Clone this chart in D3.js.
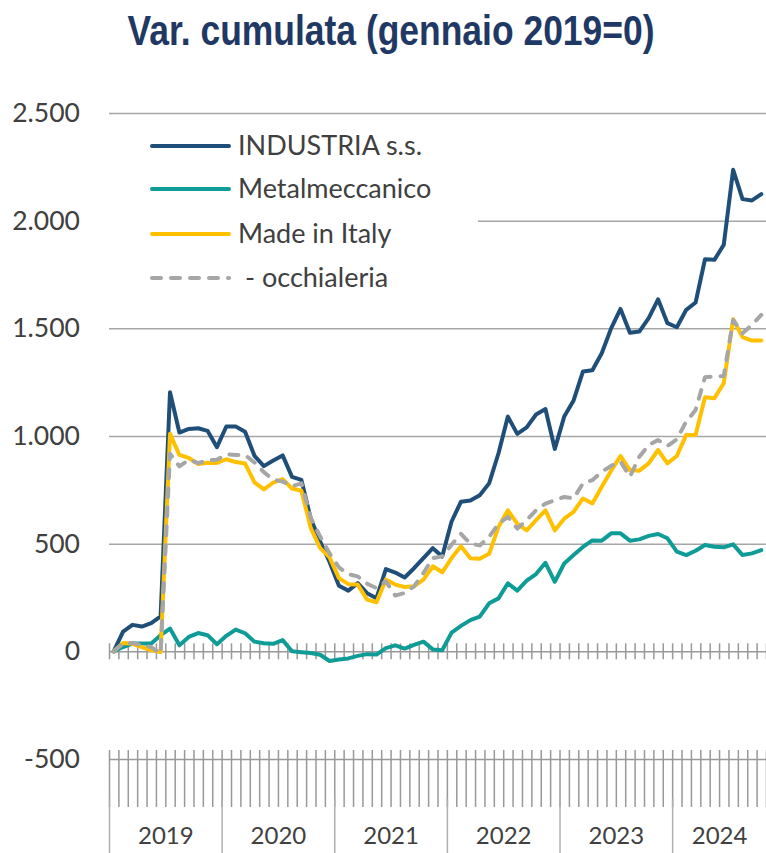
<!DOCTYPE html>
<html><head><meta charset="utf-8">
<script src="https://cdn.jsdelivr.net/npm/d3@7"></script>
<style>
html,body{margin:0;padding:0;background:#fff;}
svg{display:block;}
</style></head><body>
<svg id="chart" width="766" height="853"></svg>
<script>
// ---- data ----
const title = "Var. cumulata (gennaio 2019=0)";
const years = ["2019","2020","2021","2022","2023","2024"];
const monthsInYear = [12,12,12,12,12,10];
const seriesNames = ["INDUSTRIA s.s.","Metalmeccanico","Made in Italy","- occhialeria"];
const yTicks = [-500,0,500,1000,1500,2000,2500];
const gridTicks = [500,1000,1500,2000,2500];

const industria = [0,92,123,115,131,162,1203,1016,1033,1036,
  1024,948,1044,1044,1020,908,860,886,910,810,
  796,615,510,415,305,282,317,270,247,382,
  366,343,386,433,479,440,603,695,700,725,
  780,920,1090,1010,1040,1100,1125,940,1090,1165,
  1300,1305,1384,1500,1590,1480,1485,1547,1635,1524,
  1505,1586,1620,1821,1818,1888,2236,2100,2094,2123];
const metalmeccanico = [0,20,36,36,36,75,106,28,67,85,
  75,33,72,101,84,45,38,35,52,0,
  -4,-8,-16,-45,-38,-33,-21,-13,-15,15,
  28,13,30,45,9,5,87,118,145,161,
  223,246,316,282,328,359,411,323,408,447,
  485,515,514,548,548,514,520,536,545,525,
  463,447,467,494,486,483,497,447,455,470];
const madeInItaly = [0,39,35,20,5,-3,1010,912,898,870,
  876,875,892,879,872,785,752,784,800,756,
  746,572,479,436,340,312,310,240,228,333,
  310,299,302,333,395,367,433,488,432,430,
  453,578,655,593,562,609,655,562,616,648,
  710,687,764,839,907,842,839,873,935,873,
  907,1005,1005,1180,1175,1245,1542,1459,1443,1443];
const occhialeria = [0,36,39,28,20,-11,918,859,890,874,
  887,890,915,912,912,877,832,797,789,767,
  780,620,533,455,390,358,348,314,294,325,
  259,271,302,364,433,441,495,546,500,492,
  531,593,624,570,609,655,686,702,717,710,
  780,795,834,861,881,811,904,958,981,954,
  985,1067,1121,1273,1276,1279,1539,1477,1516,1562];

const seriesValues = [industria, metalmeccanico, madeInItaly, occhialeria];
const seriesColors = ["#1f4e79","#0f9c97","#ffc000","#a6a6a6"];

// ---- build ----
const categories = [];
years.forEach((yr,i)=>{ for(let m=1;m<=monthsInYear[i];m++) categories.push(yr+"-"+String(m).padStart(2,"0")); });

const L=109, R=766, T=113, B=759;
const svg = d3.select("#chart");
const labelFont = "Lato, 'Open Sans', sans-serif";
const textCol = "#404040";

const x = d3.scaleBand().domain(categories).range([L,R]).padding(0);
const xb = d3.scaleLinear().domain([0,categories.length]).range([L,R]);
const y = d3.scaleLinear().domain([-500,2500]).range([B,T]);

const loc = d3.formatLocale({decimal:",", thousands:".", grouping:[3], currency:["",""], minus:"-"});
const fmt = loc.format(",d");

// title
svg.append("text").attr("x",391).attr("y",45).attr("text-anchor","middle")
  .attr("font-family","'Liberation Sans Narrow','Arial Narrow','Liberation Sans',sans-serif")
  .attr("textLength",527).attr("lengthAdjust","spacingAndGlyphs")
  .attr("font-weight","bold").attr("font-size",42).attr("fill","#1f3864").text(title);

// gridlines
const grid = svg.append("g").attr("transform",`translate(${L},0)`)
  .call(d3.axisLeft(y).tickValues(gridTicks).tickSize(-(R-L)).tickFormat(""));
grid.select(".domain").remove();
grid.selectAll("line").attr("stroke","#a6a6a6").attr("stroke-width",1.5);

// legend background
svg.append("rect").attr("x",L).attr("y",121).attr("width",369).attr("height",180).attr("fill","#fff");

// y labels
const ya = svg.append("g").attr("transform",`translate(${L},0)`)
  .call(d3.axisLeft(y).tickValues(yTicks).tickSize(0).tickPadding(29).tickFormat(fmt));
ya.select(".domain").remove();
ya.selectAll("text").attr("font-family",labelFont).attr("font-size",26.5).attr("fill",textCol);

// zero axis with month ticks crossing
const za = svg.append("g").attr("transform",`translate(0,${y(0)})`)
  .call(d3.axisBottom(xb).tickValues(d3.range(categories.length+1)).tickSize(8).tickSizeOuter(0).tickFormat(""));
za.selectAll("line").attr("y1",-8);
za.selectAll("line,path").attr("stroke","#999").attr("stroke-width",1.5);

// bottom axis at -500 with month ticks
const ba = svg.append("g").attr("transform",`translate(0,${y(-500)})`)
  .call(d3.axisBottom(xb).tickValues(d3.range(categories.length+1)).tickSize(48).tickSizeOuter(0).tickFormat(""));
ba.selectAll("line").attr("y1",-9);
ba.selectAll("line,path").attr("stroke","#999").attr("stroke-width",1.5);

// year separators
let acc=0; const yearStarts=[], yearCenters=[];
monthsInYear.forEach(n=>{ yearStarts.push(acc); yearCenters.push(acc+n/2); acc+=n; });
const ys = svg.append("g").attr("transform","translate(0,799)")
  .call(d3.axisBottom(xb).tickValues(yearStarts).tickSize(54).tickSizeOuter(0).tickFormat(""));
ys.select(".domain").remove();
ys.selectAll("line").attr("stroke","#b0b0b0").attr("stroke-width",1.5);

// year labels
const yl = svg.append("g").attr("transform","translate(0,827)")
  .call(d3.axisBottom(xb).tickValues(yearCenters).tickSize(0).tickPadding(0).tickFormat((d,i)=>years[i]));
yl.select(".domain").remove();
yl.selectAll("text").attr("font-family",labelFont).attr("font-size",24).attr("fill",textCol);

// series lines
const line = d3.line().x((d,i)=>x(categories[i])+x.bandwidth()/2).y(d=>y(d));
seriesValues.forEach((vals,si)=>{
  svg.append("path").datum(vals).attr("d",line).attr("fill","none")
    .attr("stroke",seriesColors[si]).attr("stroke-width",4)
    .attr("stroke-linejoin","round").attr("stroke-linecap","round")
    .attr("stroke-dasharray", si===3 ? "9,10" : null);
});

// legend
const legY = [146,189,234,278];
seriesNames.forEach((name,i)=>{
  svg.append("line").attr("x1",152).attr("x2",229).attr("y1",legY[i]).attr("y2",legY[i])
    .attr("stroke",seriesColors[i]).attr("stroke-width",4).attr("stroke-linecap","round")
    .attr("stroke-dasharray", i===3 ? "9,10" : null);
  svg.append("text").attr("x", i===3 ? 245 : 238).attr("y",legY[i]).attr("dy","0.35em")
    .attr("font-family",labelFont).attr("font-size",27).attr("fill",textCol).text(name);
});
</script>
</body></html>
